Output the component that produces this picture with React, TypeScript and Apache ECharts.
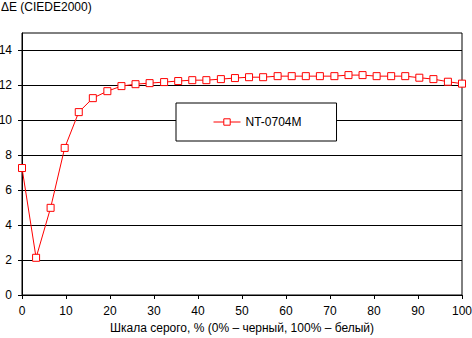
import React, { useEffect, useRef } from "react";
import * as echarts from "echarts";

const seriesName = "NT-0704M";
const grayPercent = [
  0, 3.2, 6.5, 9.7, 12.9, 16.1, 19.4, 22.6, 25.8, 29.0, 32.3, 35.5, 38.7, 41.9, 45.2, 48.4,
  51.6, 54.8, 58.1, 61.3, 64.5, 67.7, 71.0, 74.2, 77.4, 80.6, 83.9, 87.1, 90.3, 93.5, 96.8, 100,
];
const deltaE = [
  7.27, 2.13, 4.99, 8.42, 10.47, 11.27, 11.67, 11.96, 12.07, 12.13, 12.19, 12.25, 12.3, 12.3, 12.36, 12.42,
  12.47, 12.47, 12.53, 12.53, 12.53, 12.53, 12.53, 12.59, 12.59, 12.53, 12.53, 12.53, 12.44, 12.36, 12.21, 12.1,
];
const yTicks = [0, 2, 4, 6, 8, 10, 12, 14];
const yTitle = "ΔE (CIEDE2000)";
const xTitle = "Шкала серого, % (0% – черный, 100% – белый)";

const FONT = "'Liberation Sans', Arial, sans-serif";

export default function App() {
  const ref = useRef<HTMLDivElement>(null);
  useEffect(() => {
    if (!ref.current) return;
    const chart = echarts.init(ref.current, undefined, { renderer: "svg" });
    chart.setOption({
      animation: false,
      backgroundColor: "#ffffff",
      textStyle: { fontFamily: FONT, color: "#000" },
      title: {
        text: yTitle,
        left: 1,
        top: 1,
        padding: 0,
        textStyle: { fontFamily: FONT, fontSize: 12, fontWeight: "normal", color: "#000" },
      },
      grid: {
        left: 22,
        right: 10,
        top: 33,
        bottom: 43,
        containLabel: false,
        outerBoundsMode: "none",
        show: true,
        borderColor: "#000",
        borderWidth: 1,
        backgroundColor: "transparent",
      },
      legend: {
        left: 176,
        top: 103,
        padding: [13, 35, 13, 37],
        backgroundColor: "#fff",
        borderColor: "#000",
        borderWidth: 1,
        itemWidth: 27,
        itemHeight: 8,
        itemGap: 5,
        lineStyle: { width: 1 },
        itemStyle: { borderWidth: 1 },
        textStyle: { fontFamily: FONT, fontSize: 12, color: "#000", fontWeight: "normal" },
        data: [seriesName],
      },
      xAxis: {
        type: "value",
        min: 0,
        max: 100,
        interval: 10,
        name: xTitle,
        nameLocation: "middle",
        nameGap: 26,
        nameTextStyle: { fontFamily: FONT, fontSize: 12, color: "#000" },
        axisLine: { show: true, onZero: false, lineStyle: { color: "#000", width: 1 } },
        axisTick: { show: true, length: 4, lineStyle: { color: "#000" } },
        axisLabel: { fontFamily: FONT, fontSize: 12, color: "#000", margin: 10 },
        splitLine: { show: false },
      },
      yAxis: {
        type: "value",
        min: 0,
        max: 15,
        axisLine: { show: true, lineStyle: { color: "#000", width: 1 } },
        axisTick: { show: true, length: 4, lineStyle: { color: "#000" }, customValues: yTicks },
        axisLabel: { fontFamily: FONT, fontSize: 12, color: "#000", margin: 10, customValues: yTicks },
        splitLine: { show: true, lineStyle: { color: "#000", width: 1 } },
      },
      series: [
        {
          name: seriesName,
          type: "line",
          data: grayPercent.map((x, i) => [x, deltaE[i]]),
          symbol: "rect",
          symbolSize: 7,
          showAllSymbol: true,
          lineStyle: { color: "#ff0000", width: 1 },
          itemStyle: { color: "#ffffff", borderColor: "#ff0000", borderWidth: 1 },
          emphasis: { disabled: true },
          z: 5,
        },
      ],
    });
    return () => chart.dispose();
  }, []);
  return (
    <div
      ref={ref}
      style={{ position: "fixed", left: 0, top: 0, width: 472, height: 338 }}
    />
  );
}
